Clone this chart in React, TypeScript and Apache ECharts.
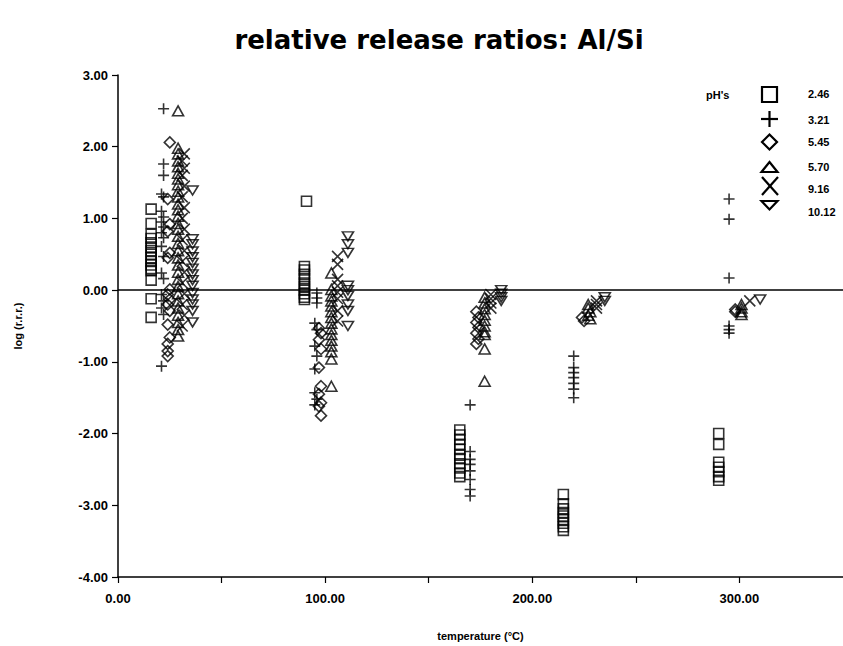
import React, { useEffect, useRef } from "react";
import * as echarts from "echarts";

// ---- data (temperature °C, log r.r.r.) ----
const ph246: [number, number][] = [
  [16, 1.13], [16, 0.93], [16, 0.78], [16, 0.72], [16, 0.66], [16, 0.6], [16, 0.55], [16, 0.5],
  [16, 0.45], [16, 0.4], [16, 0.35], [16, 0.3], [16, 0.27], [16, 0.14], [16, -0.12], [16, -0.38],
  [91, 1.24], [90, 0.33], [90, 0.28], [90, 0.22], [90, 0.16], [90, 0.1], [90, 0.05], [90, 0.0],
  [90, -0.05], [90, -0.1], [90, -0.13],
  [165, -1.95], [165, -2.02], [165, -2.08], [165, -2.15], [165, -2.22], [165, -2.3], [165, -2.35],
  [165, -2.42], [165, -2.48], [165, -2.55], [165, -2.6],
  [215, -2.85], [215, -2.98], [215, -3.05], [215, -3.1], [215, -3.15], [215, -3.2], [215, -3.25],
  [215, -3.3], [215, -3.35],
  [290, -2.0], [290, -2.15], [290, -2.4], [290, -2.47], [290, -2.53], [290, -2.6], [290, -2.65],
];

const ph321: [number, number][] = [
  [22, 2.53], [22, 1.76], [22, 1.6], [21, 1.34], [22, 1.3], [21, 1.1], [22, 1.02], [21, 0.95],
  [22, 0.88], [21, 0.8], [22, 0.73], [21, 0.61], [22, 0.47], [21, 0.24], [22, 0.16], [21, -0.06],
  [22, -0.15], [21, -0.25], [22, -0.34], [21, -1.06],
  [96, -0.04], [96, -0.11], [96, -0.18], [95, -0.46], [96, -0.55], [95, -0.78], [96, -0.92],
  [95, -1.1], [95, -1.43], [96, -1.52], [95, -1.6],
  [170, -1.6], [170, -2.25], [170, -2.36], [170, -2.43], [170, -2.52], [170, -2.64], [170, -2.78],
  [170, -2.87],
  [220, -0.92], [220, -1.08], [220, -1.15], [220, -1.22], [220, -1.3], [220, -1.38], [220, -1.5],
  [295, 1.27], [295, 0.99], [295, 0.17], [295, -0.5], [295, -0.55], [295, -0.6],
];

const ph545: [number, number][] = [
  [25, 2.06], [24, 1.27], [25, 0.92], [24, 0.82], [25, 0.52], [24, 0.45], [25, 0.01], [24, -0.06],
  [25, -0.13], [24, -0.2], [25, -0.29], [24, -0.48], [25, -0.66], [24, -0.75], [24, -0.85], [24, -0.92],
  [97, -0.53], [98, -0.6], [97, -0.69], [98, -0.82], [97, -1.08], [98, -1.34], [97, -1.45],
  [98, -1.57], [97, -1.62], [98, -1.75],
  [173, -0.3], [174, -0.38], [173, -0.45], [174, -0.52], [173, -0.6], [174, -0.68], [173, -0.75],
  [224, -0.38], [225, -0.43],
  [298, -0.27], [298, -0.3],
];

const ph570: [number, number][] = [
  [29, 2.5], [29, 1.98], [29, 1.9], [29, 1.8], [29, 1.72], [29, 1.63], [29, 1.55], [29, 1.47],
  [29, 1.38], [29, 1.3], [29, 1.2], [29, 1.12], [29, 1.03], [29, 0.93], [29, 0.85], [29, 0.75],
  [29, 0.65], [29, 0.55], [29, 0.45], [29, 0.35], [29, 0.25], [29, 0.15], [29, 0.05], [29, -0.05],
  [29, -0.15], [29, -0.25], [29, -0.35], [29, -0.45], [29, -0.55], [29, -0.64],
  [103, 0.24], [103, 0.01], [103, -0.08], [103, -0.15], [103, -0.22], [103, -0.3], [103, -0.38],
  [103, -0.46], [103, -0.54], [103, -0.62], [103, -0.7], [103, -0.78], [103, -0.86], [103, -0.96],
  [103, -1.34],
  [177, -0.1], [177, -0.18], [177, -0.26], [177, -0.34], [177, -0.42], [177, -0.5], [177, -0.58],
  [177, -0.62], [177, -0.82], [177, -1.27],
  [227, -0.2], [227, -0.25], [228, -0.3], [227, -0.35], [228, -0.4],
  [301, -0.2], [301, -0.25], [301, -0.3], [301, -0.34],
];

const ph916: [number, number][] = [
  [32, 1.9], [31, 1.8], [32, 1.7], [31, 1.6], [32, 1.45], [31, 1.3], [32, 1.15], [31, 1.0],
  [32, 0.85], [31, 0.7], [32, 0.55], [31, 0.4], [32, 0.25], [31, 0.1], [32, -0.05], [31, -0.2],
  [32, -0.35], [31, -0.5],
  [106, 0.47], [106, 0.36], [106, 0.15], [106, 0.06], [106, -0.03], [106, -0.12], [106, -0.29],
  [106, -0.43],
  [180, -0.06], [180, -0.12], [180, -0.18], [180, -0.25],
  [231, -0.15], [231, -0.2], [231, -0.25],
  [305, -0.15],
];

const ph1012: [number, number][] = [
  [36, 1.39], [36, 0.71], [36, 0.64], [36, 0.54], [36, 0.46], [36, 0.38], [36, 0.3], [36, 0.22],
  [36, 0.14], [36, 0.06], [36, -0.04], [36, -0.13], [36, -0.2], [36, -0.29], [36, -0.45],
  [111, 0.75], [111, 0.64], [111, 0.52], [111, 0.06], [111, 0.0], [111, -0.08], [111, -0.2],
  [111, -0.29], [111, -0.5],
  [185, 0.0], [185, -0.05], [185, -0.1], [185, -0.15],
  [235, -0.1], [235, -0.15],
  [310, -0.13],
];

const seriesNames = ["2.46", "3.21", "5.45", "5.70", "9.16", "10.12"];
const seriesData = [ph246, ph321, ph545, ph570, ph916, ph1012];
const seriesSymbols = [
  "rect",
  "path://M0,5L10,5M5,0L5,10",
  "diamond",
  "triangle",
  "path://M0,0L10,10M10,0L0,10",
  "path://M0,0L10,0L5,9Z",
];
const seriesSizes: [number, number][] = [
  [10, 10], [11, 11], [11, 11], [11, 10], [11, 11], [11, 9],
];

const xTicks = [0, 100, 200, 300];
const yTicks = [-4, -3, -2, -1, 0, 1, 2, 3];

const FONT = "'Liberation Sans', Arial, sans-serif";

export default function App() {
  const ref = useRef<HTMLDivElement>(null);

  useEffect(() => {
    if (!ref.current) return;
    const chart = echarts.init(ref.current, undefined, { renderer: "svg" });

    const series: any[] = seriesNames.map((name, i) => ({
      name,
      type: "scatter",
      data: seriesData[i],
      symbol: seriesSymbols[i],
      symbolSize: seriesSizes[i],
      itemStyle: { color: "transparent", borderColor: "#000", borderWidth: 1.6 },
      emphasis: { disabled: true },
    }));
    series[0].markLine = {
      silent: true,
      symbol: "none",
      label: { show: false },
      lineStyle: { color: "#000", width: 1.5, type: "solid" },
      data: [{ yAxis: 0 }],
    };

    const legendY = [94, 120, 142, 167, 189, 212];
    const legendGraphics: any[] = [
      { type: "text", left: 706, top: 89, style: { text: "pH's", font: `bold 11px ${FONT}`, fill: "#000" } },
      { type: "rect", shape: { x: 762, y: 87, width: 15, height: 15 }, style: { fill: "none", stroke: "#000", lineWidth: 2.2 } },
      { type: "line", shape: { x1: 761, y1: 119, x2: 778, y2: 119 }, style: { stroke: "#000", lineWidth: 2.2 } },
      { type: "line", shape: { x1: 769.5, y1: 111, x2: 769.5, y2: 127 }, style: { stroke: "#000", lineWidth: 2.2 } },
      { type: "polygon", shape: { points: [[769.5, 134.5], [777, 142], [769.5, 149.5], [762, 142]] }, style: { fill: "none", stroke: "#000", lineWidth: 2.2 } },
      { type: "polygon", shape: { points: [[769.5, 162], [777.5, 172], [761.5, 172]] }, style: { fill: "none", stroke: "#000", lineWidth: 2.2 } },
      { type: "line", shape: { x1: 762, y1: 177, x2: 778, y2: 195 }, style: { stroke: "#000", lineWidth: 2.2 } },
      { type: "line", shape: { x1: 778, y1: 177, x2: 762, y2: 195 }, style: { stroke: "#000", lineWidth: 2.2 } },
      { type: "polygon", shape: { points: [[761.5, 201], [777.5, 201], [769.5, 209.5]] }, style: { fill: "none", stroke: "#000", lineWidth: 2.2 } },
      ...seriesNames.map((n, i) => ({
        type: "text",
        x: 808,
        y: legendY[i],
        style: { text: n, font: `bold 11px ${FONT}`, fill: "#000", verticalAlign: "middle", textAlign: "left" },
      })),
    ];

    chart.setOption({
      animation: false,
      backgroundColor: "#fff",
      title: {
        text: "relative release ratios: Al/Si",
        left: 434,
        textAlign: "center",
        top: 22,
        textStyle: { fontFamily: "'DejaVu Sans', sans-serif", fontWeight: "bold", fontSize: 26, color: "#000" },
      },
      grid: { left: 118, right: -4, top: 75, bottom: 69 },
      xAxis: {
        type: "value",
        min: 0,
        max: 350,
        interval: 50,
        name: "temperature (°C)",
        nameLocation: "middle",
        nameGap: 53,
        nameTextStyle: { fontFamily: FONT, fontWeight: "bold", fontSize: 11, color: "#000" },
        axisLine: { show: true, onZero: false, lineStyle: { color: "#000", width: 1.5 } },
        axisTick: { show: true, inside: false, length: 6, lineStyle: { color: "#000", width: 1.2 } },
        axisLabel: {
          margin: 15,
          fontFamily: FONT,
          fontWeight: "bold",
          fontSize: 13,
          color: "#000",
          showMaxLabel: false,
          formatter: (v: number) => (xTicks.includes(v) ? v.toFixed(2) : ""),
        },
        splitLine: { show: false },
      },
      yAxis: {
        type: "value",
        min: -4,
        max: 3,
        interval: 1,
        name: "log (r.r.r.)",
        nameLocation: "middle",
        nameGap: 95,
        nameRotate: 90,
        nameTextStyle: { fontFamily: FONT, fontWeight: "bold", fontSize: 11, color: "#000" },
        axisLine: { show: true, onZero: false, lineStyle: { color: "#000", width: 1.5 } },
        axisTick: { show: true, inside: false, length: 6, lineStyle: { color: "#000", width: 1.2 } },
        axisLabel: {
          margin: 10,
          fontFamily: FONT,
          fontWeight: "bold",
          fontSize: 13,
          color: "#000",
          formatter: (v: number) => (yTicks.includes(v) ? v.toFixed(2) : ""),
        },
        splitLine: { show: false },
      },
      graphic: legendGraphics,
      series,
    });

    return () => chart.dispose();
  }, []);

  return <div ref={ref} style={{ width: 843, height: 646, position: "absolute", left: 0, top: 0 }} />;
}
